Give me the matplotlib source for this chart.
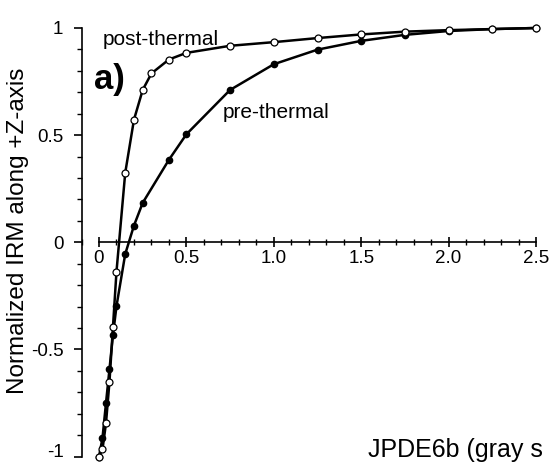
import matplotlib
matplotlib.use("Agg")
import matplotlib.pyplot as plt
from matplotlib.ticker import MultipleLocator, FixedLocator
from matplotlib.transforms import ScaledTranslation

plt.rcParams['font.family'] = ['Liberation Sans', 'DejaVu Sans']
plt.rcParams['axes.unicode_minus'] = False

# Data (field in T vs normalized IRM)
post_x = [0, 0.02, 0.04, 0.06, 0.08, 0.10, 0.15, 0.20, 0.25, 0.30, 0.40, 0.50,
          0.75, 1.00, 1.25, 1.50, 1.75, 2.00, 2.25, 2.50]
post_y = [-1.0, -0.966, -0.844, -0.65, -0.393, -0.137, 0.324, 0.572, 0.711, 0.788,
          0.853, 0.884, 0.917, 0.934, 0.953, 0.970, 0.983, 0.990, 0.995, 1.0]

pre_x = [0, 0.02, 0.04, 0.06, 0.08, 0.10, 0.15, 0.20, 0.25, 0.40, 0.50,
         0.75, 1.00, 1.25, 1.50, 1.75, 2.00, 2.25, 2.50]
pre_y = [-1.0, -0.913, -0.75, -0.591, -0.432, -0.298, -0.055, 0.078, 0.184, 0.385,
         0.504, 0.711, 0.831, 0.899, 0.940, 0.968, 0.986, 0.995, 1.0]

x_ticks = [0, 0.5, 1.0, 1.5, 2.0, 2.5]
x_tick_labels = ['0', '0.5', '1.0', '1.5', '2.0', '2.5']
y_ticks = [-1, -0.5, 0, 0.5, 1]
y_tick_labels = ['-1', '-0.5', '0', '0.5', '1']

W, H = 550, 465
fig = plt.figure(figsize=(W / 100, H / 100), dpi=100)

# axes placement (pixel mapping)
x0px, xscale = 99.0, 174.8
y0px, yscale = 242.3, 214.3
xlim = (-0.1, 2.55)
ylim = (-1.02, 1.03)
left = (x0px + xlim[0] * xscale) / W
right = (x0px + xlim[1] * xscale) / W
top = 1 - (y0px - ylim[1] * yscale) / H
bottom = 1 - (y0px - ylim[0] * yscale) / H
ax = fig.add_axes([left, bottom, right - left, top - bottom])
ax.set_xlim(*xlim)
ax.set_ylim(*ylim)

ax.plot(pre_x, pre_y, color='black', lw=1.8, marker='o', ms=4.5,
        mfc='black', mec='black', clip_on=False, zorder=3)
ax.plot(post_x, post_y, color='black', lw=1.8, marker='o', ms=5,
        mfc='white', mec='black', mew=0.9, clip_on=False, zorder=4)

for s in ['top', 'right']:
    ax.spines[s].set_visible(False)
ax.spines['left'].set_bounds(-1, 1)
ax.spines['left'].set_linewidth(1.2)
ax.spines['bottom'].set_position(('data', 0))
ax.spines['bottom'].set_bounds(0, 2.5)
ax.spines['bottom'].set_linewidth(1.2)

ax.xaxis.set_major_locator(FixedLocator(x_ticks))
ax.set_xticklabels(x_tick_labels)
ax.xaxis.set_minor_locator(MultipleLocator(0.1))
ax.yaxis.set_major_locator(FixedLocator(y_ticks))
ax.set_yticklabels(y_tick_labels)
ax.yaxis.set_minor_locator(MultipleLocator(0.1))

ax.tick_params(axis='x', which='major', direction='inout', length=7, width=1.2,
               labelsize=13.5, pad=2)
ax.tick_params(axis='x', which='minor', direction='inout', length=4, width=1.0)
ax.tick_params(axis='y', which='major', direction='out', length=6, width=1.2,
               labelsize=13.5, pad=7)
ax.tick_params(axis='y', which='minor', direction='out', length=3.5, width=1.0)

# nudge the bottom y label up slightly (as in the reference)
ylabels = ax.get_yticklabels()
ylabels[0].set_transform(ylabels[0].get_transform() +
                         ScaledTranslation(0, 4.5 / 72, fig.dpi_scale_trans))

def px(x, y):
    return x / W, 1 - y / H

fig.text(*px(18, 231), 'Normalized IRM along +Z-axis', rotation=90,
         ha='center', va='center', fontsize=17.5)
fig.text(*px(103, 45), 'post-thermal', ha='left', va='baseline', fontsize=15)
fig.text(*px(223, 118), 'pre-thermal', ha='left', va='baseline', fontsize=15)
fig.text(*px(94, 89), 'a)', ha='left', va='baseline', fontsize=25, fontweight='bold')
fig.text(*px(368, 457), 'JPDE6b (gray s', ha='left', va='baseline', fontsize=18)

fig.savefig('out.png', dpi=100)
